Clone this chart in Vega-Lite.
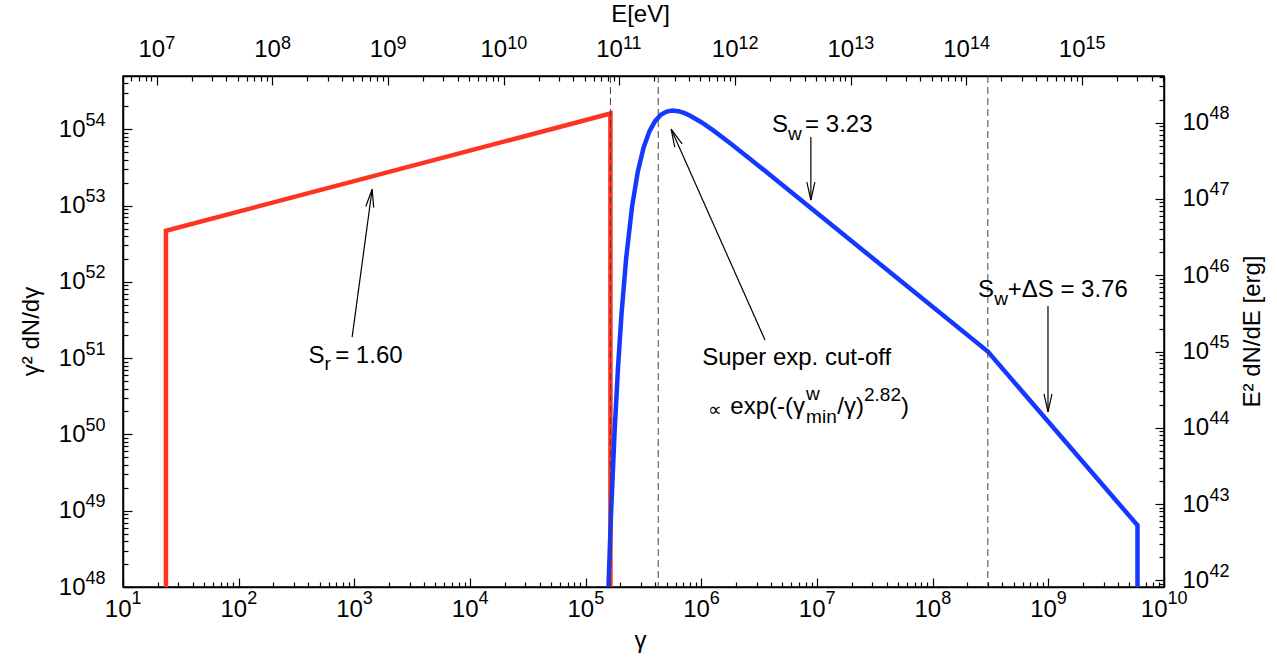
{
  "$schema": "https://vega.github.io/schema/vega-lite/v6.json",
  "width": 1041,
  "height": 511,
  "autosize": {"type": "none"},
  "padding": {"left": 123, "top": 76, "right": 113, "bottom": 70},
  "background": "white",
  "config": {
    "view": {"stroke": "black", "strokeWidth": 1.5},
    "axis": {
      "grid": false,
      "labelFont": "Liberation Sans",
      "labelFontSize": 24,
      "labelColor": "black",
      "titleFont": "Liberation Sans",
      "titleFontSize": 24,
      "titleFontWeight": "normal",
      "titleColor": "black",
      "tickColor": "black",
      "tickWidth": 1.2,
      "domainColor": "black",
      "domainWidth": 1.5,
      "labelOverlap": false,
      "labelBound": false,
      "labelFlush": false,
      "titleAlign": "center",
      "titleBaseline": "middle"
    }
  },
  "datasets": {
    "curves": [
      {"series": "red", "i": 0, "gamma": 23.5, "val": 1e48},
      {"series": "red", "i": 1, "gamma": 23.5, "val": 4.68e52},
      {"series": "red", "i": 2, "gamma": 1.637e5, "val": 1.61e54},
      {"series": "red", "i": 3, "gamma": 1.637e5, "val": 1e48},
      {"series": "blue", "i": 0, "gamma": 1.574e5, "val": 1e48},
      {"series": "blue", "i": 1, "gamma": 1.66e5, "val": 9.77e48},
      {"series": "blue", "i": 2, "gamma": 1.778e5, "val": 1.07e50},
      {"series": "blue", "i": 3, "gamma": 1.905e5, "val": 7.69e50},
      {"series": "blue", "i": 4, "gamma": 2.042e5, "val": 3.8e51},
      {"series": "blue", "i": 5, "gamma": 2.239e5, "val": 2.04e52},
      {"series": "blue", "i": 6, "gamma": 2.512e5, "val": 9.44e52},
      {"series": "blue", "i": 7, "gamma": 2.818e5, "val": 2.75e53},
      {"series": "blue", "i": 8, "gamma": 3.162e5, "val": 5.71e53},
      {"series": "blue", "i": 9, "gamma": 3.548e5, "val": 9.33e53},
      {"series": "blue", "i": 10, "gamma": 3.981e5, "val": 1.28e54},
      {"series": "blue", "i": 11, "gamma": 4.467e5, "val": 1.55e54},
      {"series": "blue", "i": 12, "gamma": 5.012e5, "val": 1.71e54},
      {"series": "blue", "i": 13, "gamma": 5.623e5, "val": 1.76e54},
      {"series": "blue", "i": 14, "gamma": 6.31e5, "val": 1.73e54},
      {"series": "blue", "i": 15, "gamma": 7.079e5, "val": 1.64e54},
      {"series": "blue", "i": 16, "gamma": 7.943e5, "val": 1.52e54},
      {"series": "blue", "i": 17, "gamma": 1e6, "val": 1.24e54},
      {"series": "blue", "i": 18, "gamma": 1.259e6, "val": 9.77e53},
      {"series": "blue", "i": 19, "gamma": 1.778e6, "val": 6.58e53},
      {"series": "blue", "i": 20, "gamma": 2.512e6, "val": 4.35e53},
      {"series": "blue", "i": 21, "gamma": 3.981e6, "val": 2.48e53},
      {"series": "blue", "i": 22, "gamma": 1e7, "val": 8.0e52},
      {"series": "blue", "i": 23, "gamma": 3.0e8, "val": 1.22e51},
      {"series": "blue", "i": 24, "gamma": 5.9e9, "val": 6.43e48},
      {"series": "blue", "i": 25, "gamma": 5.9e9, "val": 1e48}
    ],
    "vlines": [{"gamma": 1.637e5}, {"gamma": 4.24e5}, {"gamma": 3.0e8}],
    "arrows": [
      {"id": "r", "gamma": 957, "val": 1.89e51, "gamma2": 1426, "val2": 1.64e53},
      {"id": "w", "gamma": 8.85e6, "val": 7.91e53, "gamma2": 8.85e6, "val2": 1.18e53},
      {"id": "dw", "gamma": 9.93e8, "val": 4.82e51, "gamma2": 9.93e8, "val2": 1.97e50},
      {"id": "cut", "gamma": 3.55e6, "val": 1.73e51, "gamma2": 5.48e5, "val2": 1.007e54}
    ],
    "mainText": [
      {"t": "S", "gamma": 402, "val": 1.06e51},
      {"t": "= 1.60", "gamma": 683, "val": 1.06e51},
      {"t": "S", "gamma": 4.09e6, "val": 1.135e54},
      {"t": "= 3.23", "gamma": 7.89e6, "val": 1.135e54},
      {"t": "S", "gamma": 2.47e8, "val": 7.82e51},
      {"t": "+ΔS = 3.76", "gamma": 4.45e8, "val": 7.82e51},
      {"t": "Super exp. cut-off", "gamma": 1.017e6, "val": 1.003e51},
      {"t": "exp(-(γ", "gamma": 1.78e6, "val": 2.29e50},
      {"t": "/γ)", "gamma": 1.5e7, "val": 2.29e50},
      {"t": ")", "gamma": 5.33e7, "val": 2.29e50}
    ],
    "smallText": [
      {"t": "r", "gamma": 553, "val": 8.37e50},
      {"t": "w", "gamma": 5.62e6, "val": 8.65e53},
      {"t": "w", "gamma": 3.4e8, "val": 5.96e51},
      {"t": "w", "gamma": 8.05e6, "val": 3.39e50},
      {"t": "min", "gamma": 8.05e6, "val": 1.69e50},
      {"t": "2.82", "gamma": 2.55e7, "val": 3.28e50},
      {"t": "∝", "gamma": 1.146e6, "val": 2.09e50}
    ]
  },
  "layer": [
    {
      "layer": [
        {
          "data": {"name": "curves"},
          "mark": {"type": "line", "strokeWidth": 4.5, "clip": true, "strokeCap": "butt", "strokeJoin": "miter"},
          "encoding": {
            "x": {
              "field": "gamma", "type": "quantitative",
              "scale": {"type": "log", "domain": [10, 1e10], "nice": false},
              "axis": {
                "orient": "bottom",
                "title": "γ",
                "titleX": 517, "titleY": 53,
                "values": [1e1,2e1,3e1,4e1,5e1,6e1,7e1,8e1,9e1,1e2,2e2,3e2,4e2,5e2,6e2,7e2,8e2,9e2,1e3,2e3,3e3,4e3,5e3,6e3,7e3,8e3,9e3,1e4,2e4,3e4,4e4,5e4,6e4,7e4,8e4,9e4,1e5,2e5,3e5,4e5,5e5,6e5,7e5,8e5,9e5,1e6,2e6,3e6,4e6,5e6,6e6,7e6,8e6,9e6,1e7,2e7,3e7,4e7,5e7,6e7,7e7,8e7,9e7,1e8,2e8,3e8,4e8,5e8,6e8,7e8,8e8,9e8,1e9,2e9,3e9,4e9,5e9,6e9,7e9,8e9,9e9,1e10],
                "tickSize": {"condition": {"test": "abs(log(datum.value)/LN10-round(log(datum.value)/LN10))<0.001", "value": -9}, "value": -5},
                "labelPadding": 19,
                "labelAlign": "right",
                "labelOffset": {"condition": {"test": "datum.value >= 1e10", "value": 3}, "value": 8},
                "labelExpr": "abs(log(datum.value)/LN10-round(log(datum.value)/LN10))<0.001 ? '10' : ''"
              }
            },
            "y": {
              "field": "val", "type": "quantitative",
              "scale": {"type": "log", "domain": [1e48, 5e54], "nice": false},
              "axis": {
                "orient": "left",
                "title": "γ² dN/dγ",
                "titleAngle": 270,
                "titleX": -92, "titleY": 255,
                "values": [1e48,2e48,3e48,4e48,5e48,6e48,7e48,8e48,9e48,1e49,2e49,3e49,4e49,5e49,6e49,7e49,8e49,9e49,1e50,2e50,3e50,4e50,5e50,6e50,7e50,8e50,9e50,1e51,2e51,3e51,4e51,5e51,6e51,7e51,8e51,9e51,1e52,2e52,3e52,4e52,5e52,6e52,7e52,8e52,9e52,1e53,2e53,3e53,4e53,5e53,6e53,7e53,8e53,9e53,1e54,2e54,3e54,4e54,5e54],
                "tickSize": {"condition": {"test": "abs(log(datum.value)/LN10-round(log(datum.value)/LN10))<0.001", "value": -9}, "value": -5},
                "labelPadding": 47,
                "labelAlign": "right",
                "labelBaseline": "middle",
                "labelExpr": "abs(log(datum.value)/LN10-round(log(datum.value)/LN10))<0.001 ? '10' : ''"
              }
            },
            "color": {"field": "series", "type": "nominal", "scale": {"domain": ["red", "blue"], "range": ["#ff3322", "#1438ff"]}, "legend": null},
            "detail": {"field": "series"},
            "order": {"field": "i", "type": "quantitative"}
          }
        },
        {
          "data": {"name": "vlines"},
          "mark": {"type": "rule", "strokeDash": [7, 4], "stroke": "#444444", "strokeWidth": 1},
          "encoding": {
            "x": {"field": "gamma", "type": "quantitative", "scale": {"type": "log", "domain": [10, 1e10], "nice": false}}
          }
        },
        {
          "data": {"name": "arrows"},
          "mark": {"type": "rule", "stroke": "black", "strokeWidth": 1.2},
          "encoding": {
            "x": {"field": "gamma", "type": "quantitative", "scale": {"type": "log", "domain": [10, 1e10], "nice": false}},
            "y": {"field": "val", "type": "quantitative", "scale": {"type": "log", "domain": [1e48, 5e54], "nice": false}},
            "x2": {"field": "gamma2"},
            "y2": {"field": "val2"}
          }
        },
        {
          "data": {"name": "arrows"},
          "transform": [{"filter": "datum.id === 'r'"}],
          "mark": {"type": "point", "shape": "M-0.4,1.8L0,0L0.4,1.8", "size": 400, "filled": false, "stroke": "black", "strokeWidth": 1.2, "opacity": 1, "angle": 7.7},
          "encoding": {
            "x": {"field": "gamma2", "type": "quantitative", "scale": {"type": "log", "domain": [10, 1e10], "nice": false}},
            "y": {"field": "val2", "type": "quantitative", "scale": {"type": "log", "domain": [1e48, 5e54], "nice": false}}
          }
        },
        {
          "data": {"name": "arrows"},
          "transform": [{"filter": "datum.id === 'cut'"}],
          "mark": {"type": "point", "shape": "M-0.4,1.8L0,0L0.4,1.8", "size": 400, "filled": false, "stroke": "black", "strokeWidth": 1.2, "opacity": 1, "angle": -24},
          "encoding": {
            "x": {"field": "gamma2", "type": "quantitative", "scale": {"type": "log", "domain": [10, 1e10], "nice": false}},
            "y": {"field": "val2", "type": "quantitative", "scale": {"type": "log", "domain": [1e48, 5e54], "nice": false}}
          }
        },
        {
          "data": {"name": "arrows"},
          "transform": [{"filter": "datum.id === 'w' || datum.id === 'dw'"}],
          "mark": {"type": "point", "shape": "M-0.4,1.8L0,0L0.4,1.8", "size": 400, "filled": false, "stroke": "black", "strokeWidth": 1.2, "opacity": 1, "angle": 180},
          "encoding": {
            "x": {"field": "gamma2", "type": "quantitative", "scale": {"type": "log", "domain": [10, 1e10], "nice": false}},
            "y": {"field": "val2", "type": "quantitative", "scale": {"type": "log", "domain": [1e48, 5e54], "nice": false}}
          }
        },
        {
          "data": {"name": "mainText"},
          "mark": {"type": "text", "font": "Liberation Sans", "fontSize": 24, "align": "left", "baseline": "middle", "color": "black"},
          "encoding": {
            "x": {"field": "gamma", "type": "quantitative", "scale": {"type": "log", "domain": [10, 1e10], "nice": false}},
            "y": {"field": "val", "type": "quantitative", "scale": {"type": "log", "domain": [1e48, 5e54], "nice": false}},
            "text": {"field": "t"}
          }
        },
        {
          "data": {"name": "smallText"},
          "mark": {"type": "text", "font": "Liberation Sans", "fontSize": 19, "align": "left", "baseline": "middle", "color": "black"},
          "encoding": {
            "x": {"field": "gamma", "type": "quantitative", "scale": {"type": "log", "domain": [10, 1e10], "nice": false}},
            "y": {"field": "val", "type": "quantitative", "scale": {"type": "log", "domain": [1e48, 5e54], "nice": false}},
            "text": {"field": "t"}
          }
        }
      ]
    },
    {
      "data": {"values": [{"E_eV": 5.11e6, "E2dNdE_erg": 8.187e41}, {"E_eV": 5.11e15, "E2dNdE_erg": 4.0935e48}]},
      "mark": {"type": "point", "opacity": 0},
      "encoding": {
        "x": {
          "field": "E_eV", "type": "quantitative",
          "scale": {"type": "log", "domain": [5.11e6, 5.11e15], "nice": false},
          "axis": {
            "orient": "top",
            "title": "E[eV]",
            "titleX": 517, "titleY": -62,
            "values": [6e6,7e6,8e6,9e6,1e7,2e7,3e7,4e7,5e7,6e7,7e7,8e7,9e7,1e8,2e8,3e8,4e8,5e8,6e8,7e8,8e8,9e8,1e9,2e9,3e9,4e9,5e9,6e9,7e9,8e9,9e9,1e10,2e10,3e10,4e10,5e10,6e10,7e10,8e10,9e10,1e11,2e11,3e11,4e11,5e11,6e11,7e11,8e11,9e11,1e12,2e12,3e12,4e12,5e12,6e12,7e12,8e12,9e12,1e13,2e13,3e13,4e13,5e13,6e13,7e13,8e13,9e13,1e14,2e14,3e14,4e14,5e14,6e14,7e14,8e14,9e14,1e15,2e15,3e15,4e15,5e15],
            "tickSize": {"condition": {"test": "abs(log(datum.value)/LN10-round(log(datum.value)/LN10))<0.001", "value": -9}, "value": -5},
            "labelPadding": 24,
            "labelAlign": "right",
            "labelBaseline": "bottom",
            "labelOffset": {"condition": {"test": "datum.value >= 1e10", "value": 3}, "value": 8},
            "labelExpr": "abs(log(datum.value)/LN10-round(log(datum.value)/LN10))<0.001 ? '10' : ''"
          }
        },
        "y": {
          "field": "E2dNdE_erg", "type": "quantitative",
          "scale": {"type": "log", "domain": [8.187e41, 4.0935e48], "nice": false},
          "axis": {
            "orient": "right",
            "title": "E² dN/dE [erg]",
            "titleAngle": 270,
            "titleX": 88, "titleY": 255,
            "values": [9e41,1e42,2e42,3e42,4e42,5e42,6e42,7e42,8e42,9e42,1e43,2e43,3e43,4e43,5e43,6e43,7e43,8e43,9e43,1e44,2e44,3e44,4e44,5e44,6e44,7e44,8e44,9e44,1e45,2e45,3e45,4e45,5e45,6e45,7e45,8e45,9e45,1e46,2e46,3e46,4e46,5e46,6e46,7e46,8e46,9e46,1e47,2e47,3e47,4e47,5e47,6e47,7e47,8e47,9e47,1e48,2e48,3e48,4e48],
            "tickSize": {"condition": {"test": "abs(log(datum.value)/LN10-round(log(datum.value)/LN10))<0.001", "value": -9}, "value": -5},
            "labelPadding": 27,
            "labelAlign": "left",
            "labelBaseline": "middle",
            "labelExpr": "abs(log(datum.value)/LN10-round(log(datum.value)/LN10))<0.001 ? '10' : ''"
          }
        }
      }
    },
    {
      "data": {"values": [{"g": 10, "v": 1e48}, {"g": 1e10, "v": 5e54}]},
      "mark": {"type": "point", "opacity": 0},
      "encoding": {
        "x": {
          "field": "g", "type": "quantitative",
          "scale": {"type": "log", "domain": [10, 1e10], "nice": false},
          "axis": {
            "orient": "bottom", "title": null, "ticks": false, "domain": false,
            "values": [1e1,1e2,1e3,1e4,1e5,1e6,1e7,1e8,1e9,1e10],
            "labelFontSize": 18, "labelAlign": "left", "labelBaseline": "top", "labelPadding": 2,
            "labelOffset": {"condition": {"test": "datum.value >= 1e10", "value": 3}, "value": 8},
            "labelExpr": "'' + round(log(datum.value)/LN10)"
          }
        },
        "y": {
          "field": "v", "type": "quantitative",
          "scale": {"type": "log", "domain": [1e48, 5e54], "nice": false},
          "axis": {
            "orient": "left", "title": null, "ticks": false, "domain": false,
            "values": [1e48,1e49,1e50,1e51,1e52,1e53,1e54],
            "labelFontSize": 18, "labelAlign": "right", "labelBaseline": "middle", "labelPadding": 18, "labelOffset": -9,
            "labelExpr": "'' + round(log(datum.value)/LN10)"
          }
        }
      }
    },
    {
      "data": {"values": [{"e": 5.11e6, "p": 8.187e41}, {"e": 5.11e15, "p": 4.0935e48}]},
      "mark": {"type": "point", "opacity": 0},
      "encoding": {
        "x": {
          "field": "e", "type": "quantitative",
          "scale": {"type": "log", "domain": [5.11e6, 5.11e15], "nice": false},
          "axis": {
            "orient": "top", "title": null, "ticks": false, "domain": false,
            "values": [1e7,1e8,1e9,1e10,1e11,1e12,1e13,1e14,1e15],
            "labelFontSize": 18, "labelAlign": "left", "labelBaseline": "bottom", "labelPadding": 24,
            "labelOffset": {"condition": {"test": "datum.value >= 1e10", "value": 3}, "value": 8},
            "labelExpr": "'' + round(log(datum.value)/LN10)"
          }
        },
        "y": {
          "field": "p", "type": "quantitative",
          "scale": {"type": "log", "domain": [8.187e41, 4.0935e48], "nice": false},
          "axis": {
            "orient": "right", "title": null, "ticks": false, "domain": false,
            "values": [1e42,1e43,1e44,1e45,1e46,1e47,1e48],
            "labelFontSize": 18, "labelAlign": "left", "labelBaseline": "middle", "labelPadding": 45, "labelOffset": -9,
            "labelExpr": "'' + round(log(datum.value)/LN10)"
          }
        }
      }
    }
  ],
  "resolve": {
    "scale": {"x": "independent", "y": "independent"},
    "axis": {"x": "independent", "y": "independent"}
  }
}
